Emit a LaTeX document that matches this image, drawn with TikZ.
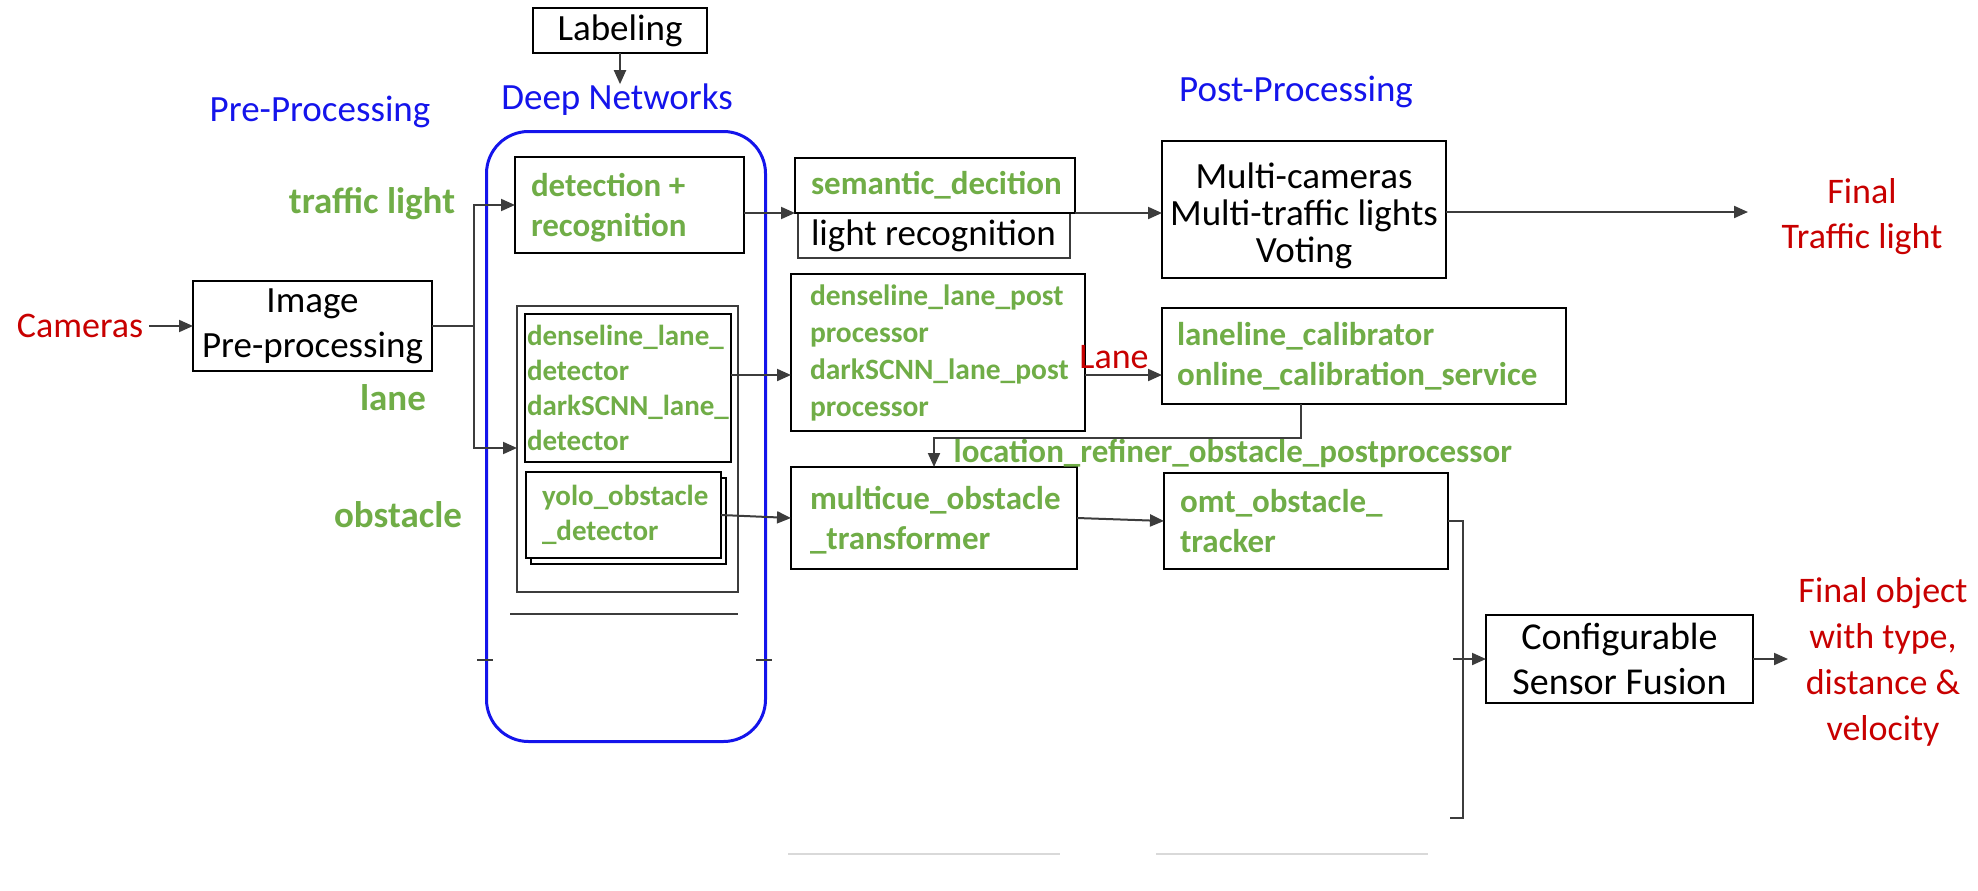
\documentclass[tikz,border=0pt]{standalone}
\usepackage{fontspec}
\setmainfont{Carlito}
\usetikzlibrary{arrows.meta}
\definecolor{tgreen}{RGB}{112,173,71}
\definecolor{tblue}{RGB}{20,20,235}
\definecolor{tred}{RGB}{200,0,0}
\definecolor{lgray}{RGB}{60,60,60}
\begin{document}
\begin{tikzpicture}[x=1pt,y=-1pt,
  box/.style={draw=black, line width=2.8pt, fill=white, inner sep=0pt, outer sep=0pt, anchor=north west},
  thinbox/.style={box, draw=lgray, line width=1.8pt},
  conn/.style={draw=lgray, line width=2pt},
  arr/.style={conn, -{Triangle[length=14pt,width=12pt]}},
  lbl/.style={inner sep=0pt, outer sep=0pt},
  gA/.style={lbl, text=tgreen, font=\fontsize{33}{40}\selectfont\bfseries, align=left, anchor=west},
  gB/.style={lbl, text=tgreen, font=\fontsize{29}{35}\selectfont\bfseries, align=left, anchor=west},
  gL/.style={lbl, text=tgreen, font=\fontsize{29.5}{37}\selectfont\bfseries, align=left, anchor=west},
  gC/.style={lbl, text=tgreen, font=\fontsize{37}{44}\selectfont\bfseries},
  blk/.style={lbl, text=black, font=\fontsize{37}{44}\selectfont},
  rtxt/.style={lbl, text=tred, font=\fontsize{36}{45}\selectfont},
  btxt/.style={lbl, text=tblue, font=\fontsize{37}{44}\selectfont}
]
\useasboundingbox (0,0) rectangle (1978,891);

% container
\node[draw=tblue, line width=3pt, rounded corners=42pt, minimum width=279pt, minimum height=610pt, anchor=north west, inner sep=0pt] (dnbox) at (485,130) {};

% headings
\node[btxt] (pre) at (320,112) {Pre-Processing};
\node[btxt] (dn) at (617,100) {Deep Networks};
\node[btxt] (post) at (1296,92) {Post-Processing};

% labeling
\node[box, line width=2pt, minimum width=174pt, minimum height=45pt, font=\fontsize{37}{44}\selectfont] (lab) at (533,8) {Labeling};

% cameras & image
\node[rtxt] (cam) at (80,326) {Cameras};
\node[box, line width=2.4pt, minimum width=239pt, minimum height=90pt, align=center, font=\fontsize{37}{45}\selectfont] (img) at (193,281) {Image\\Pre-processing};

% category labels
\node[gC] (tl) at (372,204) {traffic light};
\node[gC] (lanelbl) at (393,398) {lane};
\node[gC] (obs) at (398,515) {obstacle};

% deep network boxes
\node[box, minimum width=229pt, minimum height=96pt] (det) at (515,157) {};
\node[gA] (det-t) at ([xshift=16pt,yshift=-3pt]det.west) {detection +\\recognition};

\node[thinbox, minimum width=221pt, minimum height=286pt] (laneout) at (517,306) {};
\node[box, minimum width=206pt, minimum height=148pt] (lanein) at (525,314) {};
\node[gB] (lanein-t) at ([xshift=2pt]lanein.west) {denseline\_lane\_\\detector\\darkSCNN\_lane\_\\detector};
\node[box, draw=black, line width=1.8pt, minimum width=195pt, minimum height=86pt] (yshadow) at (531,478) {};
\node[box, minimum width=195pt, minimum height=86pt] (yolo) at (526,472) {};
\node[gB] (yolo-t) at ([xshift=16pt]yolo.west) {yolo\_obstacle\\\_detector};
\draw[draw=lgray, line width=1.8pt] (510,614) -- (738,614);
\draw[conn] (477,660) -- (493,660);
\draw[conn] (756,660) -- (772,660);

% post processing boxes
\node[thinbox, minimum width=272pt, minimum height=45pt] (lrec) at (798,213) {};
\node[blk, anchor=west] (lrec-t) at ([xshift=13pt]lrec.west) {light recognition};
\node[box, minimum width=280pt, minimum height=55pt] (sem) at (795,158) {};
\node[gA] (sem-t) at ([xshift=16pt]sem.west) {semantic\_decition};

\node[box, minimum width=284pt, minimum height=137pt] (multi) at (1162,141) {};
\node[blk, align=center, font=\fontsize{37}{37}\selectfont] (multi-t) at ([yshift=-6pt]multi.center) {Multi-cameras\\Multi-traffic lights\\Voting};

\node[box, minimum width=294pt, minimum height=157pt] (lpost) at (791,274) {};
\node[gL] (lpost-t) at ([xshift=19pt]lpost.west) {denseline\_lane\_post\\processor\\darkSCNN\_lane\_post\\processor};

\node[box, minimum width=404pt, minimum height=96pt] (lcal) at (1162,308) {};
\node[gA] (lcal-t) at ([xshift=15pt]lcal.west) {laneline\_calibrator\\online\_calibration\_service};

\node[box, minimum width=286pt, minimum height=102pt] (mcue) at (791,467) {};
\node[gA] (mcue-t) at ([xshift=19pt,yshift=-2pt]mcue.west) {multicue\_obstacle\\\_transformer};

\node[box, minimum width=284pt, minimum height=96pt] (omt) at (1164,473) {};
\node[gA] (omt-t) at ([xshift=16pt]omt.west) {omt\_obstacle\_\\tracker};

\node[box, line width=2.2pt, minimum width=267pt, minimum height=88pt, align=center, font=\fontsize{38}{45}\selectfont] (csf) at (1486,615) {Configurable\\Sensor Fusion};

% other labels
\node[rtxt] (lanered) at (1114,357) {Lane};
\node[gA, anchor=base east] (loc) at (1512,462) {location\_refiner\_obstacle\_postprocessor};
\node[rtxt, align=center] (ftl) at (1862,217) {Final\\Traffic light};
\node[rtxt, align=center, font=\fontsize{36}{46}\selectfont] (fobj) at (1883,662) {Final object\\with type,\\distance \&\\velocity};

% faint lines at bottom
\draw[draw=black!15, line width=1.5pt] (788,854) -- (1060,854);
\draw[draw=black!15, line width=1.5pt] (1156,854) -- (1428,854);

% connectors
\draw[arr, shorten <=6pt] (cam.east) -- (img.west);
\coordinate (j1) at (474,326);
\coordinate (j3) at (517,448);
\draw[conn] (img.east) -- (j1);
\draw[arr] (j1) |- (det.west);
\draw[arr] (j1) |- (j3);
\draw[arr] (lab.south) -- (lab.south |- dn.north);
\draw[arr] (det.east |- sem.south west) -- (sem.south west);
\draw[arr] (sem.south east) -- (multi.west |- sem.south east);
\coordinate (tlarrow) at (1748,212);
\draw[arr] (multi.east |- tlarrow) -- (tlarrow);
\coordinate (laney) at (0,375);
\draw[arr] (lanein.east |- laney) -- (lpost.west |- laney);
\draw[arr] (lpost.east |- laney) -- (lcal.west |- laney);
\coordinate (k1) at (1301,438);
\coordinate (k2) at (934,438);
\draw[arr] (lcal.south -| k1) -- (k1) -- (k2) -- (k2 |- mcue.north);
\draw[arr] (yolo.east) -- (mcue.west);
\draw[arr] (mcue.east) -- (omt.west);
\coordinate (v1) at (1463,818);
\coordinate (v2) at (1450,818);
\draw[conn] (omt.east) -| (v1) -- (v2);
\coordinate (cin) at (1453,659);
\draw[arr] (cin) -- (csf.west |- cin);
\coordinate (cout) at (1788,659);
\draw[arr] (csf.east |- cout) -- (cout);
\end{tikzpicture}
\end{document}
